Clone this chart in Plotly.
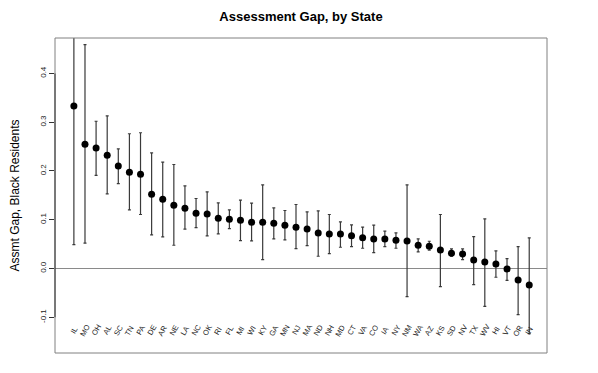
import plotly.graph_objects as go

states = ["IL", "MO", "OH", "AL", "SC", "TN", "PA", "DE", "AR", "NE", "LA", "NC", "OK", "RI",
          "FL", "MI", "WI", "KY", "GA", "MN", "NJ", "MA", "ND", "NH", "MD", "CT", "VA", "CO",
          "IA", "NY", "NM", "WA", "AZ", "KS", "SD", "NV", "TX", "WV", "HI", "VT", "OR", "IN"]
gap = [0.333, 0.255, 0.247, 0.2325, 0.210, 0.1976, 0.1935, 0.1524, 0.1422, 0.1298, 0.1237,
       0.1134, 0.1120, 0.1031, 0.1011, 0.0990, 0.0949, 0.0949, 0.0929, 0.0888, 0.0847, 0.0812,
       0.0730, 0.0710, 0.0710, 0.0669, 0.0628, 0.0607, 0.0607, 0.0580, 0.0566, 0.0477, 0.0457,
       0.0381, 0.0313, 0.0299, 0.0176, 0.0135, 0.0094, -0.0009, -0.0235, -0.0337]
lo = [0.049, 0.052, 0.191, 0.153, 0.174, 0.1203, 0.1107, 0.0689, 0.0648, 0.0477, 0.0806,
      0.0840, 0.0669, 0.0710, 0.0819, 0.0573, 0.0566, 0.0183, 0.0607, 0.0587, 0.0409, 0.0470,
      0.0251, 0.0306, 0.0436, 0.0450, 0.0415, 0.0326, 0.0450, 0.0415, -0.0577, 0.0340, 0.0374,
      -0.0372, 0.0251, 0.0183, -0.0331, -0.0775, -0.0180, -0.0242, -0.0946, -0.1337]
hi = [0.617, 0.459, 0.302, 0.313, 0.2455, 0.2763, 0.2784, 0.2373, 0.2181, 0.2133, 0.1695,
      0.1435, 0.1572, 0.1346, 0.1203, 0.1401, 0.1339, 0.1716, 0.1244, 0.1189, 0.1312, 0.1162,
      0.1182, 0.1107, 0.0956, 0.0895, 0.0847, 0.0888, 0.0765, 0.0730, 0.1716, 0.0607, 0.0559,
      0.1107, 0.0402, 0.0402, 0.0655, 0.1018, 0.0361, 0.0203, 0.0450, 0.0628]
y_ticks = [-0.1, 0.0, 0.1, 0.2, 0.3, 0.4]
label_y = -0.127

idx = list(range(len(states)))
font = "Liberation Sans, Arial, Helvetica, sans-serif"

fig = go.Figure()
fig.add_trace(go.Scatter(
    x=idx, y=gap, mode="markers",
    marker=dict(color="black", size=7),
    error_y=dict(type="data", symmetric=False,
                 array=[h - g for h, g in zip(hi, gap)],
                 arrayminus=[g - l for g, l in zip(gap, lo)],
                 color="#3a3a3a", thickness=1.2, width=1.5),
    showlegend=False, cliponaxis=True,
))

for i, s in enumerate(states):
    fig.add_annotation(x=i, y=label_y, text=s, showarrow=False, textangle=-60,
                       font=dict(family=font, size=7.5, color="#222"),
                       xref="x", yref="y")

fig.add_shape(type="rect", xref="paper", yref="paper", x0=0, x1=1, y0=0, y1=1,
              line=dict(color="#808080", width=1))
fig.add_shape(type="line", xref="paper", yref="y", x0=0, x1=0,
              y0=min(y_ticks), y1=max(y_ticks), line=dict(color="#333", width=1))

fig.update_layout(
    width=590, height=365,
    margin=dict(l=47, r=51, t=30, b=20, autoexpand=False),
    paper_bgcolor="white", plot_bgcolor="white",
    title=dict(text="<b>Assessment Gap, by State</b>", x=0.4966, xanchor="center",
               y=0.976, yanchor="middle", automargin=False,
               font=dict(family=font, size=13, color="black")),
    xaxis=dict(range=[-1.7, 42.6], showgrid=False, zeroline=False, showticklabels=False,
               ticks="", showline=False, fixedrange=True, automargin=False),
    yaxis=dict(range=[-0.1733, 0.4727], tickvals=y_ticks,
               ticktext=[f"{v:.1f}" for v in y_ticks],
               tickangle=-90, ticks="outside", ticklen=5, tickcolor="#333",
               tickfont=dict(family=font, size=8, color="#222"),
               showgrid=False, showline=False, automargin=False,
               zeroline=True, zerolinecolor="#8a8a8a", zerolinewidth=1,
               title=dict(text="Assmt Gap, Black Residents", standoff=16,
                          font=dict(family=font, size=12, color="black"))),
)

fig.write_html("out.html")
